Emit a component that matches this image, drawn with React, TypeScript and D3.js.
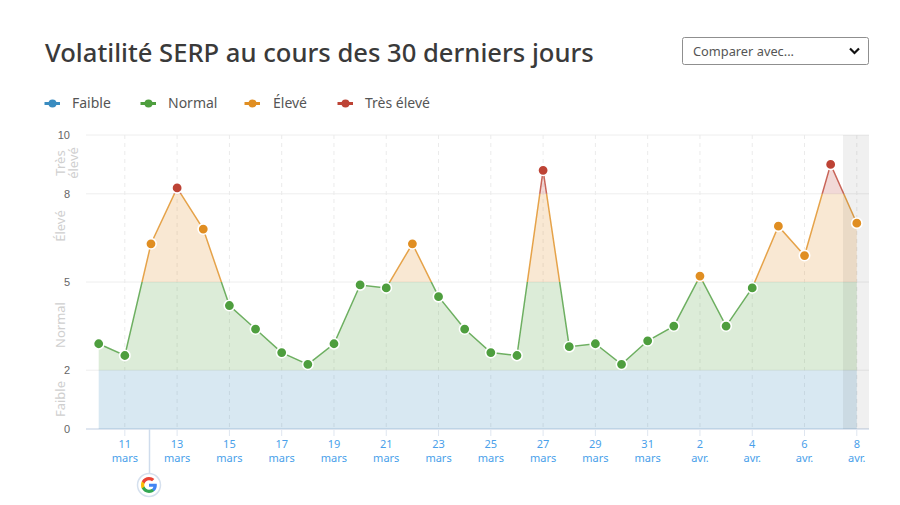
import React from "react";
import * as d3 from "d3";

const dayLabels = ["10","11","12","13","14","15","16","17","18","19","20","21","22","23","24","25","26","27","28","29","30","31","1","2","3","4","5","6","7","8"];
const monthLabels = ["mars","mars","mars","mars","mars","mars","mars","mars","mars","mars","mars","mars","mars","mars","mars","mars","mars","mars","mars","mars","mars","mars","avr.","avr.","avr.","avr.","avr.","avr.","avr.","avr."];
const volatility = [2.9,2.5,6.3,8.2,6.8,4.2,3.4,2.6,2.2,2.9,4.9,4.8,6.3,4.5,3.4,2.6,2.5,8.8,2.8,2.9,2.2,3.0,3.5,5.2,3.5,4.8,6.9,5.9,9.0,7.0];
const bandNames = ["Faible","Normal","Élevé","Très élevé"];
const bandLimits = [0,2,5,8,10];
const bandColors = ["#3a8cc0","#4e9e3e","#e08e22","#bd4335"];
const yTicks = [0,2,5,8,10];

const FONT = "'Noto Sans', sans-serif";

const x = d3.scaleLinear().domain([0, 29]).range([98.7, 856.8]);
const y = d3.scaleLinear().domain([0, 10]).range([429, 135]);

const line = d3.line<number>().x((_, i) => x(i)).y(d => y(d));
const area = d3.area<number>().x((_, i) => x(i)).y0(y(0)).y1(d => y(d));

const bandOf = (v: number) => (v < 5 ? (v < 2 ? 0 : 1) : v < 8 ? 2 : 3);

const legendX = [52, 148, 252, 345];
const bandLabelY = [399, 325, 226, 163];

export default function App() {
  return (
    <svg width={900} height={505} style={{ position: "absolute", left: 0, top: 0, fontFamily: FONT }}>
      <rect width={900} height={505} fill="#fff" />
      <text x={45} y={62} fontSize={25.6} fontWeight={500} fill="#3a3a3a">Volatilité SERP au cours des 30 derniers jours</text>

      {/* select */}
      <rect x={682.5} y={37.5} width={186} height={27} rx={2} fill="#fff" stroke="#8f8f8f" />
      <text x={693} y={56} fontSize={12.8} fill="#555">Comparer avec...</text>
      <path d="M850 48.5l4.5 4.5 4.5-4.5" fill="none" stroke="#111" strokeWidth={2.2} />

      {/* legend */}
      {bandNames.map((name, i) => (
        <g key={name}>
          <line x1={legendX[i] - 7.5} x2={legendX[i] + 8} y1={103.5} y2={103.5} stroke={bandColors[i]} strokeWidth={3} />
          <circle cx={legendX[i] + 0.5} cy={103.5} r={4} fill={bandColors[i]} />
          <text x={legendX[i] + (i === 2 ? 21 : 20)} y={108} fontSize={14} fill="#555">{name}</text>
        </g>
      ))}

      <defs>
        {bandNames.map((name, i) => (
          <clipPath id={`band-${i}`} key={name}>
            <rect x={80} y={y(bandLimits[i + 1])} width={800} height={y(bandLimits[i]) - y(bandLimits[i + 1])} />
          </clipPath>
        ))}
      </defs>

      {/* grid */}
      {yTicks.map(t => (
        <g key={t}>
          <line x1={86} x2={869} y1={y(t)} y2={y(t)} stroke={t === 0 ? "#dfe6f0" : "#eeeeee"} strokeWidth={t === 0 ? 2 : 1} />
          <text x={70} y={y(t) + 4} textAnchor="end" fontSize={11} fontFamily="'Liberation Sans', sans-serif" fill="#666">{t}</text>
        </g>
      ))}
      {dayLabels.map((d, i) => i % 2 === 1 && (
        <g key={i}>
          <line x1={x(i)} x2={x(i)} y1={135} y2={429} stroke="#ebebeb" strokeDasharray="4 4" />
          <line x1={x(i)} x2={x(i)} y1={429} y2={436} stroke="#dfe6f0" />
          <text x={x(i)} y={448} textAnchor="middle" fontSize={11} fill="#4a9fea">{d}</text>
          <text x={x(i)} y={462} textAnchor="middle" fontSize={11} fill="#4a9fea">{monthLabels[i]}</text>
        </g>
      ))}

      {/* band labels */}
      <g fontSize={13} fill="#cfcfcf" textAnchor="middle">
        <text transform={`translate(65,${bandLabelY[0]}) rotate(-90)`}>{bandNames[0]}</text>
        <text transform={`translate(65,${bandLabelY[1]}) rotate(-90)`}>{bandNames[1]}</text>
        <text transform={`translate(65,${bandLabelY[2]}) rotate(-90)`}>{bandNames[2]}</text>
        <text transform={`translate(65,${bandLabelY[3]}) rotate(-90)`}>Très</text>
        <text transform={`translate(78,${bandLabelY[3]}) rotate(-90)`}>élevé</text>
      </g>

      {/* areas and line, one layer per band */}
      {bandNames.map((name, i) => (
        <g key={name} clipPath={`url(#band-${i})`}>
          <path d={area(volatility) ?? ""} fill={bandColors[i]} fillOpacity={0.2} />
          <path d={line(volatility) ?? ""} fill="none" stroke={bandColors[i]} strokeOpacity={0.8} strokeWidth={1.5} />
        </g>
      ))}

      {/* hovered day shade */}
      <rect x={843} y={135} width={26} height={294} fill="#000" fillOpacity={0.06} />

      {/* points */}
      {volatility.map((v, i) => (
        <circle key={i} cx={x(i)} cy={y(v)} r={5.2} fill={bandColors[bandOf(v)]} stroke="#fff" strokeWidth={1.6} />
      ))}

      {/* google update marker */}
      <line x1={149.5} x2={149.5} y1={429} y2={473} stroke="#cfdcec" strokeWidth={1.5} />
      <circle cx={149} cy={485} r={11.5} fill="#fff" stroke="#d5e0ee" strokeWidth={1.5} />
      <g transform="translate(141,477) scale(0.333)" strokeWidth={0}>
        <path fill="#4285F4" d="M47.5 24.6c0-1.6-.1-3.1-.4-4.6H24v9.1h13.2c-.6 3-2.3 5.6-4.9 7.3v6h7.9c4.6-4.3 7.3-10.5 7.3-17.8z" />
        <path fill="#34A853" d="M24 48c6.5 0 11.9-2.1 15.9-5.8l-7.9-6c-2.1 1.4-4.9 2.3-8 2.3-6.2 0-11.5-4.2-13.4-9.8H2.5v6.2C6.5 42.9 14.6 48 24 48z" />
        <path fill="#FBBC05" d="M10.6 28.7c-.5-1.4-.8-3-.8-4.7s.3-3.2.8-4.7v-6.2H2.5C.9 16.4 0 20.1 0 24s.9 7.6 2.5 10.9l8.1-6.2z" />
        <path fill="#EA4335" d="M24 9.5c3.5 0 6.7 1.2 9.2 3.6l6.9-6.9C35.9 2.4 30.5 0 24 0 14.6 0 6.5 5.1 2.5 13.1l8.1 6.2C12.5 13.7 17.8 9.5 24 9.5z" />
      </g>
    </svg>
  );
}
